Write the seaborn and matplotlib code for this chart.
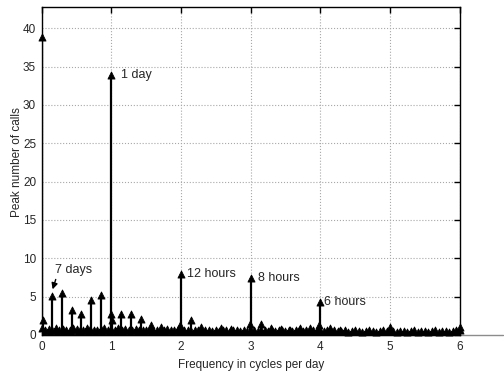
import numpy as np
import pandas as pd
import matplotlib
matplotlib.use("Agg")
import matplotlib.pyplot as plt
import seaborn as sns

# Spectral peaks: frequency (cycles/day) and peak number of calls
peak_freq = [0.0, 0.012, 1/7, 2/7, 3/7, 4/7, 5/7, 6/7,
             1.0, 0.988, 1.012, 8/7, 9/7, 10/7, 11/7, 12/7,
             2.0, 1.988, 15/7, 16/7, 18/7, 19/7,
             3.0, 2.988, 22/7, 23/7, 24/7, 25/7, 26/7, 27/7,
             4.0, 3.988, 29/7, 30/7, 5.0, 6.0]
peak_calls = [38.9, 2.0, 5.1, 5.5, 3.2, 2.8, 4.6, 5.2,
              33.9, 2.7, 1.9, 2.8, 2.8, 2.1, 1.3, 1.0,
              7.9, 1.3, 2.0, 1.1, 0.9, 0.8,
              7.4, 1.4, 1.4, 0.9, 0.8, 0.6, 0.9, 0.9,
              4.3, 1.3, 0.9, 0.7, 1.1, 1.0]

# Background spectrum sampled every 0.05 cycles/day from 0 to 6
floor_freq = np.round(np.arange(0, 121) * 0.05, 2)
floor_calls = [
    0.9, 0.7, 0.8, 0.6, 0.9, 0.7, 0.8, 0.6, 0.7, 0.9,
    0.8, 0.6, 0.7, 0.9, 0.8, 0.7, 0.6, 0.8, 0.9, 0.7,
    0.8, 0.7, 0.9, 0.6, 0.8, 0.7, 0.6, 0.8, 0.7, 0.6,
    0.7, 0.8, 0.6, 0.7, 0.5, 0.7, 0.8, 0.6, 0.7, 0.8,
    0.8, 0.6, 0.7, 0.5, 0.6, 0.7, 0.5, 0.6, 0.7, 0.5,
    0.6, 0.5, 0.7, 0.6, 0.5, 0.6, 0.7, 0.5, 0.6, 0.5,
    0.7, 0.6, 0.5, 0.6, 0.7, 0.5, 0.6, 0.5, 0.6, 0.7,
    0.5, 0.6, 0.5, 0.7, 0.6, 0.5, 0.6, 0.5, 0.6, 0.7,
    0.7, 0.5, 0.6, 0.5, 0.6, 0.5, 0.5, 0.6, 0.4, 0.5,
    0.6, 0.5, 0.4, 0.5, 0.6, 0.5, 0.4, 0.5, 0.6, 0.5,
    0.6, 0.5, 0.4, 0.5, 0.5, 0.4, 0.5, 0.6, 0.4, 0.5,
    0.5, 0.4, 0.5, 0.6, 0.4, 0.5, 0.5, 0.4, 0.5, 0.6,
    0.6,
]

# Annotated periods: label, frequency, peak value
period_labels = ["1 day", "12 hours", "8 hours", "6 hours"]
period_freq = [1.0, 2.0, 3.0, 4.0]
period_calls = [33.9, 7.9, 7.4, 4.3]
period_offset = [7, 4, 5, 3]

x_ticks = [0, 1, 2, 3, 4, 5, 6]
y_ticks = [0, 5, 10, 15, 20, 25, 30, 35, 40]

peaks = pd.DataFrame({"freq": peak_freq, "calls": peak_calls})
floor = pd.DataFrame({"freq": floor_freq, "calls": floor_calls})
df = pd.concat([floor, peaks], ignore_index=True)

sns.set_style("white")
plt.rcParams["font.family"] = ["Liberation Sans", "DejaVu Sans"]

fig = plt.figure(figsize=(5.04, 3.72), dpi=100)
ax = fig.add_axes([0.0827, 0.0995, 0.8293, 0.8825])

ax.set_xlim(0, 6)
ax.set_ylim(0, 42.8)
ax.set_xticks(x_ticks)
ax.set_yticks(y_ticks)
ax.grid(True, linestyle=":", color="#a8a8a8", linewidth=0.8)
ax.set_axisbelow(True)

# Stems: dense background band, then the distinct peaks
ax.vlines(floor["freq"], 0, floor["calls"], color="black", linewidth=2.8, zorder=3)
ax.vlines(peaks["freq"], 0, peaks["calls"], color="black", linewidth=1.6, zorder=3)
# Triangle heads
sns.scatterplot(data=df, x="freq", y="calls", marker="^", color="black",
                s=26, edgecolor="black", linewidth=0.6, ax=ax, zorder=4,
                clip_on=False, legend=False)

# Stem baseline running out past the frame
ax.plot([0, 6.62], [0, 0], color="#8c8c8c", linewidth=1.0,
        clip_on=False, zorder=2)

for lab, fx, fy, off in zip(period_labels, period_freq, period_calls, period_offset):
    ax.annotate(lab, xy=(fx, fy), xytext=(off, 0), textcoords="offset points",
                ha="left", va="center", fontsize=9)

ax.annotate("7 days", xy=(0.157, 5.95), xytext=(0.19, 8.45),
            ha="left", va="center", fontsize=9,
            arrowprops=dict(arrowstyle="-|>", color="black", lw=1.0,
                            mutation_scale=9, shrinkA=0, shrinkB=0,
                            relpos=(0.05, 0.0)))

ax.set_xlabel("Frequency in cycles per day", fontsize=8.5, labelpad=5)
ax.set_ylabel("Peak number of calls", fontsize=8.5)
ax.yaxis.set_label_coords(-0.045, 0.527)
ax.tick_params(axis="both", which="both", direction="in", length=4,
               width=1.0, top=True, right=True, labelsize=8.5, pad=4,
               color="black")
for sp in ax.spines.values():
    sp.set_color("black")
    sp.set_linewidth(1.0)

fig.savefig("out.png", dpi=100)
